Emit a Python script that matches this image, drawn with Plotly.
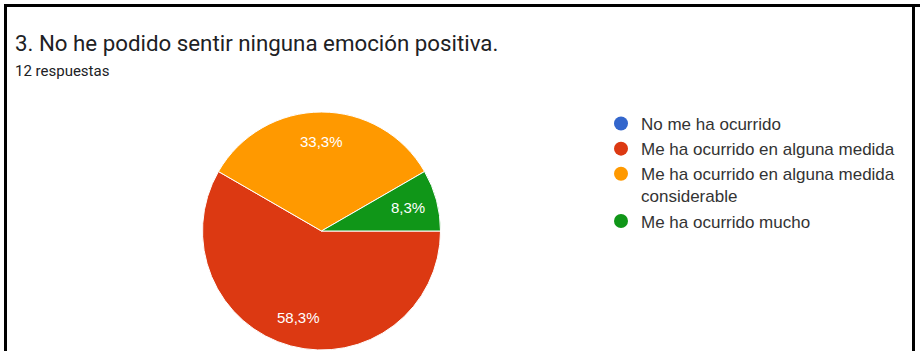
import math
import plotly.graph_objects as go

# Survey answers for question 3
question = "3. No he podido sentir ninguna emoción positiva."
subtitle = "12 respuestas"
categories = [
    "No me ha ocurrido",
    "Me ha ocurrido en alguna medida",
    "Me ha ocurrido en alguna medida considerable",
    "Me ha ocurrido mucho",
]
legend_labels = [
    "No me ha ocurrido",
    "Me ha ocurrido en alguna medida",
    "Me ha ocurrido en alguna medida<br>considerable",
    "Me ha ocurrido mucho",
]
counts = [0, 7, 4, 1]
colors = ["#3366cc", "#dc3912", "#ff9900", "#109618"]

W, H = 920, 351
total = sum(counts)

# Percent labels with a decimal comma; empty for slices with no answers
labels_text = [
    (f"{c / total * 100:.1f}".replace(".", ",") + "%") if c > 0 else ""
    for c in counts
]


def px_x(v):
    return v / W


def px_y(v):
    return (H - v) / H


# Pie placement (pixels): center, radius, start angle (clockwise from 12 o'clock)
cx, cy, r = 321.5, 231, 119
start_deg = 90
label_frac = 0.75

fig = go.Figure()
fig.add_trace(
    go.Pie(
        labels=categories,
        values=counts,
        textinfo="none",
        marker=dict(colors=colors, line=dict(color="white", width=1)),
        sort=False,
        direction="clockwise",
        rotation=start_deg,
        showlegend=False,
        hoverinfo="label+percent",
        domain=dict(x=[px_x(cx - r), px_x(cx + r)], y=[px_y(cy + r), px_y(cy - r)]),
    )
)

# Percent labels placed at the middle angle of each slice
slice_labels = []
acc = 0
for c, txt in zip(counts, labels_text):
    mid = start_deg + (acc + c / 2) / total * 360
    acc += c
    if not txt:
        continue
    a = math.radians(mid)
    lx = cx + label_frac * r * math.sin(a)
    ly = cy - label_frac * r * math.cos(a)
    slice_labels.append(
        dict(
            text=txt,
            x=px_x(lx),
            y=px_y(ly),
            xref="paper",
            yref="paper",
            xanchor="center",
            yanchor="middle",
            showarrow=False,
            font=dict(family="Arial", size=15, color="white"),
        )
    )

# Legend entries with round markers
for name, col in zip(legend_labels, colors):
    fig.add_trace(
        go.Scatter(
            x=[None],
            y=[None],
            mode="markers",
            name=name,
            marker=dict(color=col, size=14, symbol="circle"),
            showlegend=True,
        )
    )

fig.update_layout(
    width=W,
    height=H,
    margin=dict(l=0, r=0, t=0, b=0),
    paper_bgcolor="white",
    plot_bgcolor="white",
    xaxis=dict(visible=False),
    yaxis=dict(visible=False),
    showlegend=True,
    legend=dict(
        x=px_x(601),
        y=px_y(106),
        xanchor="left",
        yanchor="top",
        font=dict(family="Arial", size=17, color="#333333"),
        valign="top",
        itemsizing="trace",
        bgcolor="rgba(0,0,0,0)",
        tracegroupgap=0,
    ),
    annotations=[
        dict(
            text=question,
            x=px_x(13),
            y=px_y(43),
            xref="paper",
            yref="paper",
            xanchor="left",
            yanchor="middle",
            showarrow=False,
            font=dict(family="Roboto", size=22.3, color="#202124"),
        ),
        dict(
            text=subtitle,
            x=px_x(13),
            y=px_y(71),
            xref="paper",
            yref="paper",
            xanchor="left",
            yanchor="middle",
            showarrow=False,
            font=dict(family="Roboto", size=15, color="#202124"),
        ),
    ]
    + slice_labels,
    shapes=[
        # frame: top, left and right edges
        dict(type="line", xref="paper", yref="paper",
             x0=px_x(4), x1=px_x(920), y0=px_y(5.5), y1=px_y(5.5),
             line=dict(color="black", width=3)),
        dict(type="line", xref="paper", yref="paper",
             x0=px_x(5.5), x1=px_x(5.5), y0=px_y(4), y1=px_y(360),
             line=dict(color="black", width=3)),
        dict(type="line", xref="paper", yref="paper",
             x0=px_x(913.5), x1=px_x(913.5), y0=px_y(4), y1=px_y(360),
             line=dict(color="black", width=3)),
    ],
)

fig.write_html("out.html")
